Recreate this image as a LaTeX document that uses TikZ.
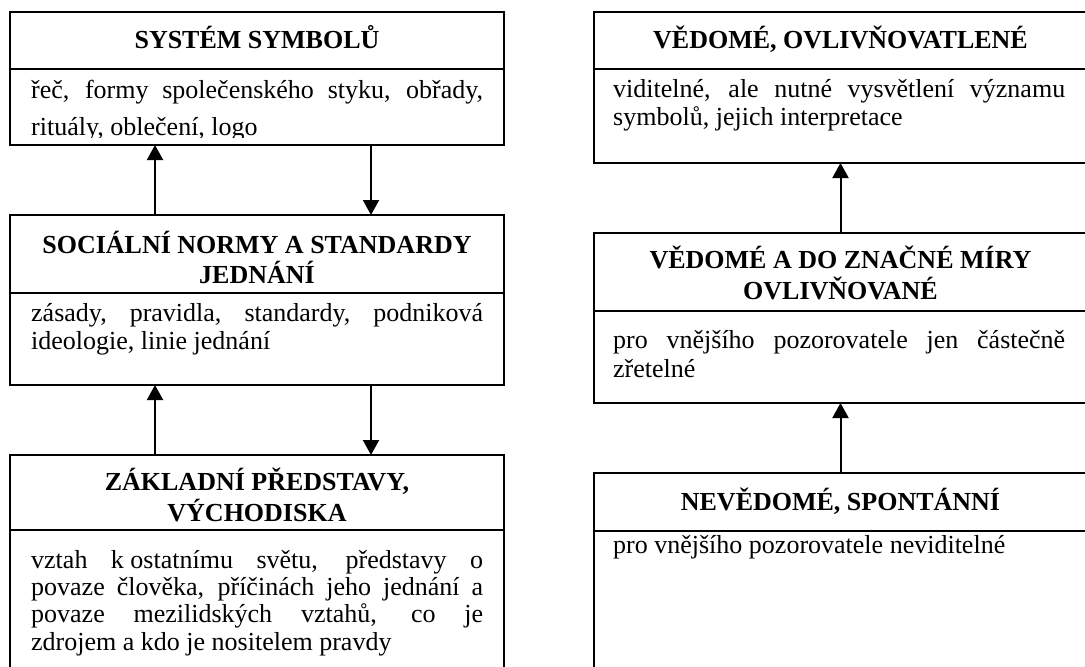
\documentclass[tikz,border=0pt]{standalone}
\usepackage{fontspec}
\setmainfont{Liberation Serif}
\usetikzlibrary{calc,arrows.meta}

\tikzset{
  sect/.style={draw, line width=2pt, anchor=north west, inner sep=0pt, outer sep=0pt},
  ttl/.style={anchor=base, inner sep=0pt, font=\fontsize{26}{30}\selectfont\bfseries},
  txt/.style={anchor=base west, inner sep=0pt, font=\fontsize{26}{28}\selectfont},
  link/.style={line width=2pt, -{Triangle[length=15pt,width=16pt]}},
}
\newcommand{\ttlbox}[1]{\parbox[t]{480pt}{\centering #1}}
\newcommand{\txtbox}[1]{\parbox[t]{452pt}{#1}}

\begin{document}
\begin{tikzpicture}[x=1pt,y=-1pt]
\useasboundingbox (0,0) rectangle (1085,667);
\clip (0,0) rectangle (1085,667);

% ---------- left column: levels of culture ----------
\node[sect, minimum width=494pt, minimum height=57pt] (L1h) at (10,12) {};
\node[sect, minimum width=494pt, minimum height=76pt] (L1b) at (10,69) {};
\node[sect, minimum width=494pt, minimum height=78pt] (L2h) at (10,215) {};
\node[sect, minimum width=494pt, minimum height=92pt] (L2b) at (10,293) {};
\node[sect, minimum width=494pt, minimum height=75pt] (L3h) at (10,455) {};
\node[sect, minimum width=494pt, minimum height=180pt] (L3b) at (10,530) {};

\node[ttl] (L1t) at ($(L1h.north)+(0,36)$) {\ttlbox{SYSTÉM SYMBOLŮ}};
\begin{scope}
  % the text frame cuts off the lower part of the second line
  \clip (L1b.north west) rectangle ($(L1b.south east)+(0,-8)$);
  \node[txt, font=\fontsize{26}{37}\selectfont] (L1x) at ($(L1b.north west)+(21,29)$)
    {\txtbox{řeč, formy společenského styku, obřady,\linebreak rituály, oblečení, logo}};
\end{scope}

\node[ttl] (L2t) at ($(L2h.north)+(0,38)$) {\ttlbox{SOCIÁLNÍ NORMY A STANDARDY\\JEDNÁNÍ}};
\node[txt] (L2x) at ($(L2b.north west)+(21,28)$)
  {\txtbox{zásady, pravidla, standardy, podniková\linebreak ideologie, linie jednání}};

\node[ttl, font=\fontsize{26}{31}\selectfont\bfseries] (L3t) at ($(L3h.north)+(0,35)$)
  {\ttlbox{ZÁKLADNÍ PŘEDSTAVY,\\VÝCHODISKA}};
\node[txt, font=\fontsize{26}{27.4}\selectfont] (L3x) at ($(L3b.north west)+(21,38)$)
  {\txtbox{vztah k\hspace{0.25em}ostatnímu světu, představy o\linebreak
   povaze člověka, příčinách jeho jednání a\linebreak
   povaze mezilidských vztahů, co je\linebreak
   zdrojem a kdo je nositelem pravdy}};

\draw[link] ($(L2h.north west)+(145,0)$) -- ($(L1b.south west)+(145,0)$);
\draw[link] ($(L1b.south west)+(361,0)$) -- ($(L2h.north west)+(361,0)$);
\draw[link] ($(L3h.north west)+(145,0)$) -- ($(L2b.south west)+(145,0)$);
\draw[link] ($(L2b.south west)+(361,0)$) -- ($(L3h.north west)+(361,0)$);

% ---------- right column: degree of awareness ----------
\node[sect, minimum width=493pt, minimum height=57pt] (R1h) at (594,12) {};
\node[sect, minimum width=493pt, minimum height=94pt] (R1b) at (594,69) {};
\node[sect, minimum width=493pt, minimum height=78pt] (R2h) at (594,233) {};
\node[sect, minimum width=493pt, minimum height=92pt] (R2b) at (594,311) {};
\node[sect, minimum width=493pt, minimum height=58pt] (R3h) at (594,473) {};
\node[sect, minimum width=493pt, minimum height=180pt] (R3b) at (594,531) {};

\node[ttl] (R1t) at ($(R1h.north)+(0,36)$) {\ttlbox{VĚDOMÉ, OVLIVŇOVATLENÉ}};
\node[txt] (R1x) at ($(R1b.north west)+(19,28)$)
  {\txtbox{viditelné, ale nutné vysvětlení významu\linebreak symbolů, jejich interpretace}};

\node[ttl, font=\fontsize{26}{31}\selectfont\bfseries] (R2t) at ($(R2h.north)+(0,35)$)
  {\ttlbox{VĚDOMÉ A DO ZNAČNÉ MÍRY\\OVLIVŇOVANÉ}};
\node[txt, font=\fontsize{26}{29}\selectfont] (R2x) at ($(R2b.north west)+(19,37)$)
  {\txtbox{pro vnějšího pozorovatele jen částečně\linebreak zřetelné}};

\node[ttl] (R3t) at ($(R3h.north)+(0,37)$) {\ttlbox{NEVĚDOMÉ, SPONTÁNNÍ}};
\node[txt] (R3x) at ($(R3b.north west)+(19,22)$)
  {\txtbox{pro vnějšího pozorovatele neviditelné}};

\draw[link] (R2h.north) -- (R1b.south);
\draw[link] (R3h.north) -- (R2b.south);
\end{tikzpicture}
\end{document}
